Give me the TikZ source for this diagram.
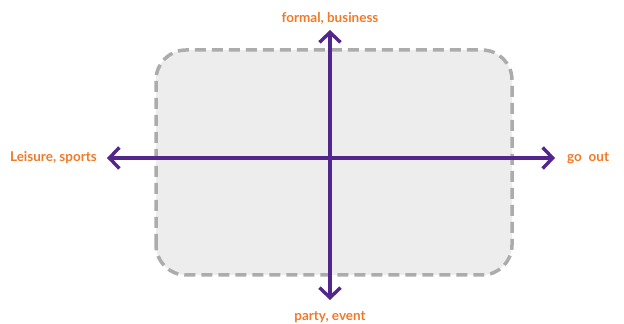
\documentclass[tikz,border=0pt]{standalone}
\usepackage{fontspec}
\setmainfont{Lato}
\usepackage{tikz}
\usetikzlibrary{arrows.meta,positioning}
\definecolor{axispurple}{RGB}{82,38,140}
\definecolor{labelorange}{RGB}{240,122,40}
\definecolor{boxgray}{RGB}{172,172,172}
\definecolor{boxfill}{RGB}{237,237,237}

\begin{document}
\begin{tikzpicture}[x=1pt, y=1pt,
        axis/.style={draw=axispurple, line width=3.2pt,
            {Straight Barb[length=10pt,width=21pt,line width=3.4pt]}-{Straight Barb[length=10pt,width=21pt,line width=3.4pt]}},
        lbl/.style={text=labelorange, font=\fontsize{13.5}{15}\selectfont\bfseries, inner sep=1pt},
        zone/.style={draw=boxgray, fill=boxfill, line width=3.5pt,
            dash pattern=on 11pt off 6pt, rounded corners=30pt}]
        \useasboundingbox (0,0) rectangle (624,324);

        % Background zone
        \draw[zone] (156,49) rectangle (512,274);

        % Axis ends
        \coordinate (west) at (107,166);
        \coordinate (east) at (555,166);
        \coordinate (north) at (330,294);
        \coordinate (south) at (330,24);

        % Labels
        \node[lbl, left=9pt of west] (leisure) {Leisure, sports};
        \node[lbl, right=11pt of east] (goout) {go\enspace out};
        \node[lbl, above=4pt of north] (formal) {formal, business};
        \node[lbl, below=10pt of south] (party) {party, event};

        % Axes
        \draw[axis] (west) -- (east);
        \draw[axis] (south) -- (north);
    \end{tikzpicture}
\end{document}
